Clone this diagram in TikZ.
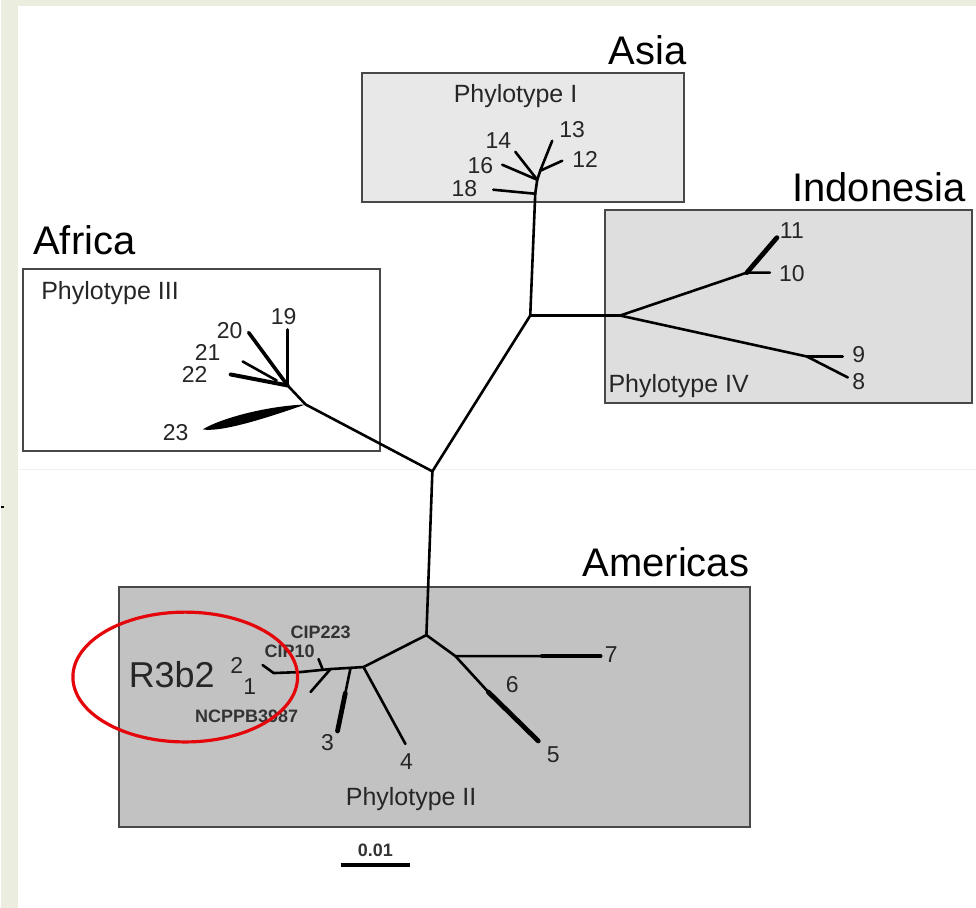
\documentclass[tikz,border=0pt]{standalone}
\usepackage{fontspec}
\setmainfont{Liberation Sans}
\usepackage{xcolor}
\usetikzlibrary{positioning,calc}

\definecolor{pagegreen}{RGB}{235,238,222}
\definecolor{framegray}{RGB}{72,72,72}
\definecolor{asiagray}{RGB}{232,232,232}
\definecolor{indogray}{RGB}{222,222,222}
\definecolor{amergray}{RGB}{194,194,194}
\definecolor{markred}{RGB}{228,6,10}

\begin{document}
\begin{tikzpicture}[
    x=0.5pt, y=-0.5pt,
    clade/.style={draw=framegray, line width=1pt},
    branch/.style={line width=1.3pt, line cap=round, line join=round},
    tipend/.style={line width=2.4pt, line cap=round},
    region/.style={font=\fontsize{20}{24}\selectfont, anchor=base west, inner sep=0pt},
    phylo/.style={font=\fontsize{12.5}{15}\selectfont, text=black!85, anchor=base west, inner sep=0pt},
    leaf/.style={font=\fontsize{11.5}{13}\selectfont, text=black!85, inner sep=0pt},
    strain/.style={font=\fontsize{9}{10}\selectfont\bfseries, text=black!80, inner sep=0pt}
]
    % Page and margins
    \fill[pagegreen] (0,0) rectangle (976,909);
    \fill[white] (17,6) rectangle (976,909);
    \draw[black!6] (17,470) -- (976,470);
    \draw[line width=1pt] (0,508) -- (3,508);

    % Regions
    \draw[clade, fill=asiagray] (362,73) rectangle (684,202);
    \draw[clade, fill=indogray] (605,210) rectangle (972,404);
    \draw[clade, fill=white] (22,269) rectangle (380,452);
    \draw[clade, fill=amergray] (118,588) rectangle (750,828);

    \node[region] (asia) at (608,65) {Asia};
    \node[region] (indonesia) at (792,202) {Indonesia};
    \node[region] (africa) at (32,255) {Africa};
    \node[region] (americas) at (582,577) {Americas};

    \node[phylo] (phyI) at (453,103) {Phylotype I};
    \node[phylo] (phyIV) at (608,393) {Phylotype IV};
    \node[phylo] (phyIII) at (40,300) {Phylotype III};
    \node[phylo] (phyII) at (345,807) {Phylotype II};

    % Internal nodes of the tree
    \coordinate (root) at (432,472);
    \coordinate (up) at (530,316);
    \coordinate (a1) at (535,194);
    \coordinate (a2) at (537,180);
    \coordinate (a3) at (540,171);
    \coordinate (i0) at (620,316);
    \coordinate (i1) at (747,273);
    \coordinate (i2) at (807,357);
    \coordinate (f1) at (305,405);
    \coordinate (f2) at (287,386);
    \coordinate (f3) at (276,381);
    \coordinate (m1) at (426,636);
    \coordinate (m2) at (363,668);
    \coordinate (m3) at (455,657);
    \coordinate (m4) at (488,693);
    \coordinate (m5) at (330,670);
    \coordinate (m6) at (300,673);
    \coordinate (m7) at (273,674);
    \coordinate (m8) at (350,669);

    % Tips
    \coordinate (t13) at (552,141);
    \coordinate (t12) at (562,161);
    \coordinate (t14) at (515,152);
    \coordinate (t16) at (502,165);
    \coordinate (t18) at (493,190);
    \coordinate (t11) at (777,238);
    \coordinate (t10) at (770,273);
    \coordinate (t9) at (843,357);
    \coordinate (t8) at (848,378);
    \coordinate (t19) at (287,330);
    \coordinate (t20) at (248,333);
    \coordinate (t21) at (242,362);
    \coordinate (t22) at (230,375);
    \coordinate (t23) at (202,430);
    \coordinate (t7) at (600,657);
    \coordinate (t5) at (538,742);
    \coordinate (t4) at (405,745);
    \coordinate (t3) at (337,732);
    \coordinate (t2) at (262,666);
    \coordinate (tcip) at (318,660);
    \coordinate (tncp) at (310,693);

    % Backbone
    \draw[branch] (root) -- (up) -- (a1) -- (a2) -- (a3);
    \draw[branch] (up) -- (i0);
    \draw[branch] (root) -- (f1) -- (f2);
    \draw[branch] (root) -- (m1);

    % Asia clade
    \draw[branch] (a3) -- (t13);
    \draw[branch] (a3) -- (t12);
    \draw[branch] (a2) -- (t14);
    \draw[branch] (a2) -- (t16);
    \draw[branch] (a1) -- (t18);

    % Indonesia clade
    \draw[branch] (i0) -- (i1) -- (t10);
    \draw[tipend] (i1) -- (t11);
    \draw[branch] (i0) -- (i2) -- (t9);
    \draw[branch] (i2) -- (t8);

    % Africa clade
    \fill (f1) .. controls (262,407) and (218,420) .. (t23)
               .. controls (220,433) and (262,420) .. (f1);
    \draw[branch] (f2) -- (t19);
    \draw[tipend, line width=1.8pt] (f2) -- (t20);
    \draw[branch] (f3) -- (t21);
    \draw[tipend, line width=2pt] (f2) -- (t22);

    % Americas clade
    \draw[branch] (m1) -- (m2);
    \draw[branch] (m1) -- (m3) -- (t7);
    \draw[tipend] ($(m3)!0.6!(t7)$) -- (t7);
    \draw[branch] (m3) -- (m4);
    \draw[tipend] (m4) -- (t5);
    \draw[branch] (m2) -- (t4);
    \draw[branch] (m8) -- (t3);
    \draw[tipend] ($(m8)!0.4!(t3)$) -- (t3);
    \draw[branch] (m2) -- (m5) -- (m6) -- (m7) -- (t2);
    \draw[branch] (m5) -- (tncp);
    \draw[branch] (322,670) -- (tcip);

    % Leaf labels
    \node[leaf] (l13) at (572,130) {13};
    \node[leaf] (l12) at (585,160) {12};
    \node[leaf] (l14) at (498,141) {14};
    \node[leaf] (l16) at (480,166) {16};
    \node[leaf] (l18) at (464,189) {18};
    \node[leaf] (l11) at (792,231) {11};
    \node[leaf] (l10) at (792,274) {10};
    \node[leaf] (l9) at (859,355) {9};
    \node[leaf] (l8) at (859,382) {8};
    \node[leaf] (l19) at (283,317) {19};
    \node[leaf] (l20) at (229,331) {20};
    \node[leaf] (l21) at (207,353) {21};
    \node[leaf] (l22) at (194,375) {22};
    \node[leaf] (l23) at (175,433) {23};
    \node[leaf] (l7) at (611,656) {7};
    \node[leaf] (l6) at (512,686) {6};
    \node[leaf] (l5) at (553,756) {5};
    \node[leaf] (l4) at (406,763) {4};
    \node[leaf] (l3) at (327,744) {3};
    \node[leaf] (l2) at (236,666) {2};
    \node[leaf] (l1) at (249,688) {1};
    \node[strain] (cip223) at (320,633) {CIP223};
    \node[strain] (cip10) at (289,652) {CIP10};
    \node[strain] (ncppb) at (246,717) {NCPPB3987};
    \node[font=\fontsize{18}{20}\selectfont, text=black!85, inner sep=0pt] (r3b2) at (171,676) {R3b2};

    % Highlight round R3b2
    \draw[markred, line width=1.6pt] (184.5,678) ellipse [x radius=112.5, y radius=65];

    % Scale bar
    \draw[line width=2pt] (340,866) coordinate (sb1) -- (410,866) coordinate (sb2);
    \node[strain, above=4pt of $(sb1)!0.5!(sb2)$] (scale) {0.01};
\end{tikzpicture}
\end{document}
